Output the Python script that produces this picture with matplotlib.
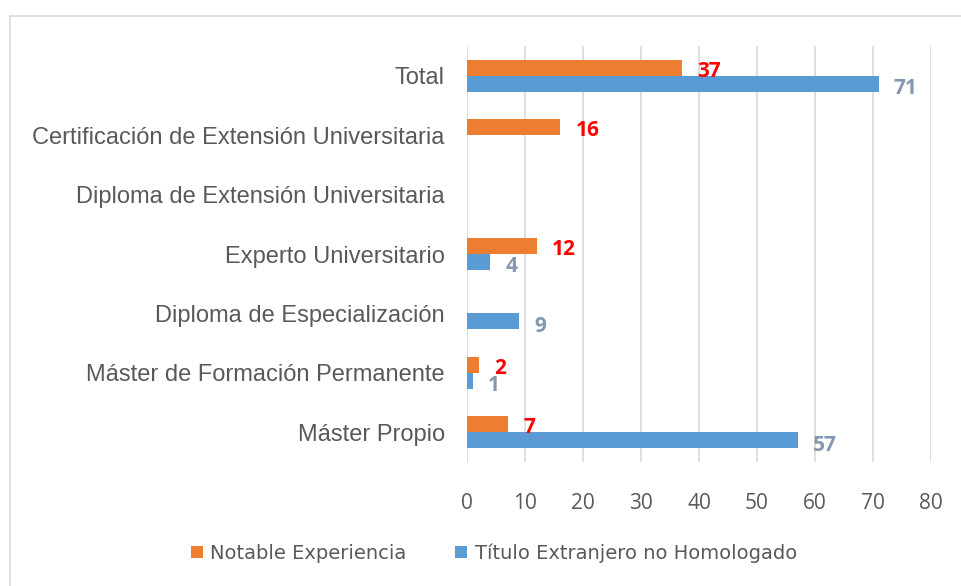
import matplotlib
matplotlib.use("Agg")
import matplotlib.pyplot as plt
import numpy as np
from matplotlib.patches import Rectangle

categories = ["Máster Propio", "Máster de Formación Permanente", "Diploma de Especialización",
              "Experto Universitario", "Diploma de Extensión Universitaria",
              "Certificación de Extensión Universitaria", "Total"]
notable = [7, 2, None, 12, None, 16, 37]
extranjero = [57, 1, 9, 4, None, None, 71]
series_names = ["Notable Experiencia", "Título Extranjero no Homologado"]
xticks = [0, 10, 20, 30, 40, 50, 60, 70, 80]

orange = "#ED7D31"
blue = "#5B9BD5"

fig = plt.figure(figsize=(9.61, 5.86), dpi=100)
fig.patches.append(Rectangle((10/961, -0.05), 1.2, 1 - 16/586 + 0.05, transform=fig.transFigure,
                             fill=False, edgecolor="#d9d9d9", linewidth=1.2))
ax = fig.add_axes([467/961, 1 - 462/586, (931 - 467)/961, (462 - 46)/586])

y = np.arange(len(categories))
h = 0.27
nv = np.array([v if v is not None else 0 for v in notable], dtype=float)
ev = np.array([v if v is not None else 0 for v in extranjero], dtype=float)
ax.barh(y + h/2, nv, height=h, color=orange, label=series_names[0], zorder=3)
ax.barh(y - h/2, ev, height=h, color=blue, label=series_names[1], zorder=3)

for i, v in enumerate(notable):
    if v is not None:
        ax.text(v + 2.7, y[i] + h/2 - 0.06, str(v), color="#FF0000", fontsize=15, fontweight="bold",
                va="center", ha="left", zorder=4, family="Open Sans")
for i, v in enumerate(extranjero):
    if v is not None:
        ax.text(v + 2.6, y[i] - h/2 - 0.08, str(v), color="#8497B0", fontsize=15, fontweight="bold",
                va="center", ha="left", zorder=4, family="Open Sans")

ax.set_xlim(0, 80)
ax.set_ylim(-0.5, len(categories) - 0.5)
ax.set_xticks(xticks)
ax.set_yticks(y)
ax.set_yticklabels(categories, fontsize=17, color="#595959", family="Liberation Sans")
ax.tick_params(axis="y", length=0, pad=16)
ax.tick_params(axis="x", length=0, pad=22, labelsize=15, labelcolor="#595959")
for lab in ax.get_xticklabels():
    lab.set_family("Open Sans")
ax.grid(axis="x", color="#d9d9d9", linewidth=1.2, zorder=0)
for s in ax.spines.values():
    s.set_visible(False)

handles, labels = ax.get_legend_handles_labels()
leg = fig.legend(handles, labels, loc="center", bbox_to_anchor=(494/961, 1 - 553/586), ncol=2,
                 frameon=False, fontsize=14, handlelength=0.6, handleheight=0.6,
                 handletextpad=0.4, columnspacing=2.5)
for t in leg.get_texts():
    t.set_color("#595959")

fig.savefig("out.png", dpi=100)
